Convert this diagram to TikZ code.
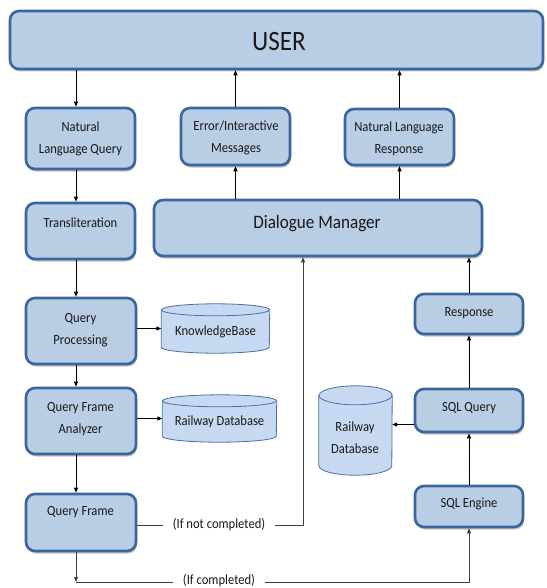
\documentclass[tikz,border=0pt]{standalone}
\usepackage{fontspec}
\setmainfont{Carlito}
\newfontfamily\boxfont{Carlito}[FakeStretch=0.9]
\usetikzlibrary{shadows,arrows.meta}
\definecolor{boxfill}{HTML}{B9CDE5}
\definecolor{boxline}{HTML}{3B659D}
\definecolor{cylfill}{HTML}{C6D9F1}
\definecolor{cylline}{HTML}{4A6FA5}
% #1 node, #2 x radius, #3 y radius
\newcommand\drum[3]{%
  \filldraw[cyl] (#1.north west) -- (#1.south west)
    arc[start angle=180,end angle=0,x radius=#2,y radius=#3] -- (#1.north east)
    arc[start angle=0,end angle=-180,x radius=#2,y radius=#3] -- cycle;
  \draw[cyl] (#1.north west) arc[start angle=180,end angle=0,x radius=#2,y radius=#3];}

\begin{document}
\begin{tikzpicture}[x=1pt,y=-1pt,
    block/.style={draw=boxline,line width=2.6pt,fill=boxfill,rounded corners=9pt,
      drop shadow={shadow xshift=1pt,shadow yshift=-2.5pt,opacity=0.4,fill=black!60}},
    store/.style={inner sep=0pt},
    cyl/.style={draw=cylline,line width=0.8pt,fill=cylfill},
    txt/.style={font=\boxfont\fontsize{14}{22}\selectfont,align=center,inner sep=0pt,text=black!90},
    cond/.style={txt,inner xsep=10pt,inner ysep=2pt},
    arr/.style={-{Triangle[length=5pt,width=4pt]},line width=0.9pt},
    far/.style={arr,draw=black!75}]
    \fill[white] (0,0) rectangle (546,588);
    \useasboundingbox (0,0) rectangle (546,588);
    \node[block,minimum width=533pt,minimum height=58pt] (user)  at (276.5,40)  {};
    \node[block,minimum width=109pt,minimum height=61pt] (nlq)   at (80.5,138.5) {};
    \node[block,minimum width=109pt,minimum height=57pt] (err)   at (235.5,136.5) {};
    \node[block,minimum width=109pt,minimum height=56pt] (nlr)   at (399.5,137) {};
    \node[block,minimum width=109pt,minimum height=56pt] (trans) at (80.5,231) {};
    \node[block,minimum width=328pt,minimum height=56pt] (dm)    at (318,228) {};
    \node[block,minimum width=110pt,minimum height=66pt] (qp)    at (81,331) {};
    \node[block,minimum width=110pt,minimum height=66pt] (qfa)   at (81,421) {};
    \node[block,minimum width=110pt,minimum height=57pt] (qf)    at (81,522.5) {};
    \node[block,minimum width=108pt,minimum height=40pt] (resp)  at (469,314) {};
    \node[block,minimum width=108pt,minimum height=43pt] (sqlq)  at (469,410.5) {};
    \node[block,minimum width=108pt,minimum height=41pt] (sqle)  at (469,506.5) {};
    \node[store,minimum width=108pt,minimum height=37pt] (kb)   at (215.5,328.5) {};
    \node[store,minimum width=114pt,minimum height=35pt] (rdb)  at (219.5,418.5) {};
    \node[store,minimum width=73pt,minimum height=70pt]  (rdbr) at (355.5,430.5) {};
    \drum{kb}{54}{6}
    \drum{rdb}{57}{6}
    \drum{rdbr}{36.5}{9.5}

    \node[txt,font=\boxfont\fontsize{28}{30}\selectfont] (usert) at (279,42) {USER};
    \node[txt] (nlqt)   at (80.5,139) {Natural\\Language Query};
    \node[txt] (errt)   at (236,138)  {Error/Interactive\\Messages};
    \node[txt] (nlrt)   at (399,138.5) {Natural Language\\Response};
    \node[txt] (transt) at (80.5,223) {Transliteration};
    \node[txt,font=\boxfont\fontsize{19}{23}\selectfont] (dmt) at (317,224) {Dialogue Manager};
    \node[txt] (qpt)    at (80.5,330) {Query\\Processing};
    \node[txt] (kbt)    at (215.5,332) {KnowledgeBase};
    \node[txt] (qfat)   at (80.5,419.5) {Query Frame\\Analyzer};
    \node[txt] (rdbt)   at (219.5,422) {Railway Database};
    \node[txt] (qft)    at (80.5,512) {Query Frame};
    \node[txt] (respt)  at (469,313) {Response};
    \node[txt] (sqlqt)  at (469,408) {SQL Query};
    \node[txt] (rdbrt)  at (355,438) {Railway\\Database};
    \node[txt] (sqlet)  at (469,504) {SQL Engine};
    \node[cond] (notdone) at (219,525) {(If not completed)};
    \node[cond] (done)    at (219,580) {(If completed)};

    \coordinate (lane) at (76,0);
    \coordinate (turn) at (76,582);
    \draw[arr] (user.south -| lane) -- (nlq.north -| lane);
    \draw[arr] (nlq.south -| lane) -- (trans.north -| lane);
    \draw[arr] (trans.south -| lane) -- (qp.north -| lane);
    \draw[arr] (qp.south -| lane) -- (qfa.north -| lane);
    \draw[arr] (qfa.south -| lane) -- (qf.north -| lane);
    \draw[arr] (qp.east |- kb) -- (kb);
    \draw[arr] (qfa.east |- rdb) -- (rdb);
    \draw[arr] (dm.north -| err) -- (err);
    \draw[arr] (err) -- (err |- user.south);
    \draw[arr] (dm.north -| nlr) -- (nlr);
    \draw[arr] (nlr) -- (nlr |- user.south);
    \draw[arr] (sqle) -- (sqlq);
    \draw[arr] (sqlq) -- (resp);
    \draw[arr] (resp) -- (resp |- dm.south);
    \draw[arr] ([yshift=-14pt]sqlq.west) -- ([yshift=-14pt]sqlq.west -| rdbr.east);
    \draw[draw=black!75,line width=0.9pt] (qf.east |- notdone) -- (notdone);
    \draw[far] (notdone) -| ([xshift=-15pt]dm.south);
    \draw[far] (qf.south -| turn) -- (turn);
    \draw[draw=black!75,line width=0.9pt] (turn) -- (turn -| done.west);
    \draw[far] (done.east |- turn) -| (sqle);
\end{tikzpicture}
\end{document}
